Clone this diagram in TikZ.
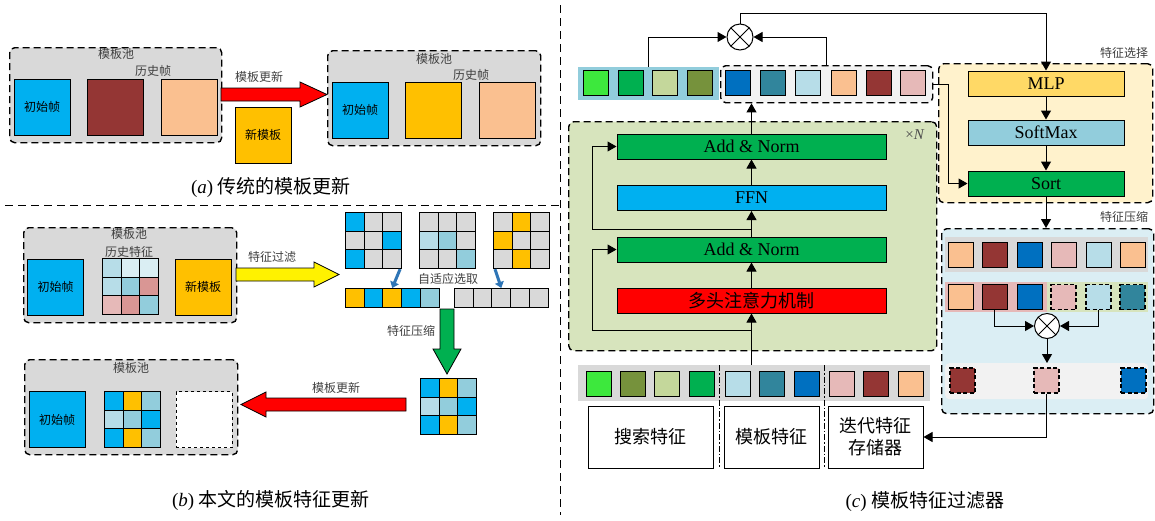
\documentclass[tikz,border=0pt]{standalone}
\usepackage{fontspec}
\setmainfont{Liberation Serif}
\newfontfamily\cjk{Noto Sans CJK SC}
\usetikzlibrary{arrows.meta,positioning,calc}

\definecolor{poolgray}{HTML}{D9D9D9}
\definecolor{stripgray}{HTML}{F2F2F2}
\definecolor{frameblue}{HTML}{00B0F0}
\definecolor{histbrown}{HTML}{943634}
\definecolor{histpeach}{HTML}{FAC090}
\definecolor{newyellow}{HTML}{FFC000}
\definecolor{lblue}{HTML}{B7DDE8}
\definecolor{mblue}{HTML}{92CDDC}
\definecolor{vlblue}{HTML}{DAEEF3}
\definecolor{lpink}{HTML}{E6B9B8}
\definecolor{dpink}{HTML}{D99694}
\definecolor{fgreen}{HTML}{3DE83D}
\definecolor{mgreen}{HTML}{00B050}
\definecolor{lolive}{HTML}{C4D79B}
\definecolor{olive}{HTML}{76923C}
\definecolor{dblue}{HTML}{0070C0}
\definecolor{tealblue}{HTML}{31859C}
\definecolor{encgreen}{HTML}{D7E4BD}
\definecolor{selyellow}{HTML}{FFF2CC}
\definecolor{mlpyellow}{HTML}{FFD966}
\definecolor{compblue}{HTML}{DBEEF4}
\definecolor{pickblue}{HTML}{2E75B6}

\tikzset{
  pool/.style={draw, line width=1.4pt, dash pattern=on 7pt off 4pt, rounded corners=5pt, fill=poolgray, inner sep=0pt, anchor=north west},
  area/.style={draw, line width=1.4pt, dash pattern=on 7pt off 4pt, rounded corners=5pt, inner sep=0pt, anchor=north west},
  plain/.style={inner sep=0pt, anchor=north west},
  big/.style={draw, line width=1pt, minimum size=56pt, inner sep=0pt, font=\cjk\fontsize{12}{12}\selectfont},
  cell/.style={draw, line width=1pt, minimum size=18.7pt, inner sep=0pt, anchor=north west},
  feat/.style={draw, line width=1pt, minimum size=25pt, inner sep=0pt},
  dashfeat/.style={feat, line width=1.3pt, dash pattern=on 4pt off 2.5pt},
  lbl/.style={font=\cjk\fontsize{12}{12}\selectfont, text=black!75, inner sep=1pt},
  subcap/.style={font=\fontsize{19}{19}\selectfont},
  layer/.style={draw, line width=1pt, minimum width=269pt, minimum height=25pt, inner sep=0pt, font=\fontsize{18}{18}\selectfont},
  fn/.style={draw, line width=1pt, minimum width=156pt, minimum height=25pt, inner sep=0pt, font=\fontsize{18}{18}\selectfont},
  src/.style={draw, line width=1pt, minimum height=62pt, inner sep=0pt, align=center, font=\cjk\fontsize{18}{22}\selectfont},
  conn/.style={-{Triangle[length=9pt,width=10pt]}, line width=1pt},
  pick/.style={draw=pickblue, line width=3pt, -{Triangle[length=6pt,width=9pt]}},
  block/.style={draw, line width=0.8pt},
  sep/.style={line width=1pt, dash pattern=on 6pt off 2pt on 1.5pt off 2pt},
  divider/.style={line width=1pt, dash pattern=on 8pt off 5pt},
  mul/.style={circle, draw, line width=1pt, fill=white, minimum size=26pt, inner sep=0pt,
    path picture={\draw[line width=1pt] (path picture bounding box.north west) -- (path picture bounding box.south east)
      (path picture bounding box.south west) -- (path picture bounding box.north east);}},
}

% 3x3 block of cells: name, left, top, colours
\newcommand\cellgrid[4]{%
  \foreach \c [count=\i from 0] in {#4}{%
    \pgfmathtruncatemacro\gc{mod(\i,3)}%
    \pgfmathtruncatemacro\gr{\i/3}%
    \node[cell, fill=\c] (#1-\i) at ({#2+\gc*18.7},{#3+\gr*18.7}) {};
  }}
% one row of cells
\newcommand\cellrow[4]{%
  \foreach \c [count=\i from 0] in {#4}{%
    \node[cell, fill=\c] (#1-\i) at ({#2+\i*18.7},#3) {};
  }}

\begin{document}
\begin{tikzpicture}[x=1pt,y=-1pt]
\useasboundingbox (0,0) rectangle (1155,520);

% (a)
\node[pool, minimum width=212pt, minimum height=95pt] (poolA) at (9,47) {};
\node[lbl] (poolAname) at (116,54) {模板池};
\node[lbl] (histAname) at (153,71) {历史帧};
\node[big, fill=frameblue] (initA) at (42,107) {初始帧};
\node[big, fill=histbrown] (histA1) at (115,107) {};
\node[big, fill=histpeach] (histA2) at (189,107) {};
\node[big, fill=newyellow] (newA) at (263,135) {新模板};
\node[pool, minimum width=213pt, minimum height=95pt] (poolB) at (327,50) {};
\node[lbl] (poolBname) at (434,59) {模板池};
\node[lbl] (histBname) at (471,75) {历史帧};
\node[big, fill=frameblue] (initB) at (360,110) {初始帧};
\node[big, fill=newyellow] (histB1) at (433.5,110) {};
\node[big, fill=histpeach] (histB2) at (507.5,110) {};
\filldraw[block, fill=red] (221,88) -- (300,88) -- (300,82) -- (327,94.5) -- (300,107) -- (300,101) -- (221,101) -- cycle;
\node[lbl] (updA) at (259,77) {模板更新};
\node[subcap] (capA) at (271,187) {(\textit{a}) {\cjk 传统的模板更新}};

% (b)
\node[pool, minimum width=213pt, minimum height=95pt] (poolC) at (23,227) {};
\node[lbl] (poolCname) at (129,234) {模板池};
\node[lbl] (histCname) at (129,252) {历史特征};
\node[big, fill=frameblue] (initC) at (55.5,287) {初始帧};
\cellgrid{histC}{102}{258}{lblue,vlblue,vlblue,lblue,mblue,dpink,lpink,dpink,mblue}
\node[big, fill=newyellow] (newC) at (203,287) {新模板};
\filldraw[block, fill=yellow] (236,268) -- (314,268) -- (314,262) -- (339,274.5) -- (314,287) -- (314,281) -- (236,281) -- cycle;
\node[lbl] (filtC) at (272,257) {特征过滤};
\cellgrid{selA}{345}{212}{frameblue,poolgray,poolgray,poolgray,poolgray,frameblue,frameblue,poolgray,poolgray}
\cellgrid{selB}{419}{212}{poolgray,poolgray,poolgray,lblue,mblue,poolgray,poolgray,poolgray,mblue}
\cellgrid{selC}{493}{212}{poolgray,newyellow,poolgray,newyellow,poolgray,poolgray,poolgray,newyellow,poolgray}
\cellrow{pickA}{345}{288}{newyellow,frameblue,newyellow,frameblue,mblue}
\cellrow{pickB}{454}{288}{poolgray,poolgray,poolgray,poolgray,poolgray}
\draw[pick] ([xshift=-2pt]selA-8.south east) -- (pickA-2.north);
\draw[pick] ([xshift=2pt]selC-6.south west) -- (pickB-2.north);
\node[lbl] (adapt) at (448,279) {自适应选取};
\filldraw[block, fill=mgreen] (440,309) -- (454,309) -- (454,349) -- (461,349) -- (447,374) -- (433,349) -- (440,349) -- cycle;
\node[lbl] (compC) at (411,331) {特征压缩};
\cellgrid{fused}{420}{378}{frameblue,newyellow,mblue,lblue,mblue,frameblue,frameblue,newyellow,mblue}
\filldraw[block, fill=red] (406,398) -- (266,398) -- (266,392) -- (241,404.5) -- (266,417) -- (266,411) -- (406,411) -- cycle;
\node[lbl] (updC) at (336,388) {模板更新};
\node[pool, minimum width=213pt, minimum height=95pt] (poolD) at (24,359) {};
\node[lbl] (poolDname) at (131,368) {模板池};
\node[big, fill=frameblue] (initD) at (57,419.5) {初始帧};
\cellgrid{histD}{104}{391}{frameblue,newyellow,mblue,lblue,mblue,frameblue,frameblue,newyellow,mblue}
\node[big, fill=white, dashed] (emptyD) at (204,419.5) {};
\node[subcap] (capB) at (271,500) {(\textit{b}) {\cjk 本文的模板特征更新}};

% (c) encoder
\node[plain, fill=mblue, minimum width=141pt, minimum height=33pt] (stripL) at (578,67) {};
\node[area, fill=stripgray, minimum width=212pt, minimum height=37pt] (stripR) at (720,65) {};
\foreach \x/\c [count=\i] in {596/fgreen,631/mgreen,665/lolive,700/olive,738/dblue,773/tealblue,808/lblue,844/histpeach,879/histbrown,913/lpink}
  \node[feat, fill=\c] (top\i) at (\x,83) {};
\node[mul] (mulA) at (740,37) {};
\coordinate (tapL) at ($(top2.north)!.5!(top3.north)$);
\coordinate (tapR) at ($(top7.north)!.5!(top8.north)$);
\draw[conn] (tapL |- stripL.north) |- (mulA.west);
\draw[conn] (tapR |- stripR.north) |- (mulA.east);

\node[area, fill=encgreen, minimum width=368pt, minimum height=229pt] (enc) at (568,121) {};
\node[font=\fontsize{15}{15}\selectfont, text=black!70] (times) at (915,135) {×\textit{N}};
\node[layer, fill=mgreen] (an1) at (751.5,146.5) {Add \& Norm};
\node[layer, fill=frameblue] (ffn) at (751.5,198) {FFN};
\node[layer, fill=mgreen] (an2) at (751.5,249.5) {Add \& Norm};
\node[layer, fill=red, font=\cjk\fontsize{18}{18}\selectfont] (mha) at (751.5,300.5) {多头注意力机制};
\draw[conn] (mha.north) -- (an2.south);
\draw[conn] (an2.north) -- (ffn.south);
\draw[conn] (ffn.north) -- (an1.south);
\draw[conn] (an1.north) -- (an1.north |- stripR.south);
\coordinate (res1) at (751.5,229);
\coordinate (res2) at (751.5,330);
\draw[conn] (res1) -| ([xshift=-24pt]an1.west) -- (an1.west);
\draw[conn] (res2) -| ([xshift=-24pt]an2.west) -- (an2.west);

\node[plain, fill=poolgray, minimum width=352pt, minimum height=36pt] (bstrip) at (578,365) {};
\draw[conn] (mha.south |- bstrip.north) -- (mha.south);
\foreach \x/\c [count=\i] in {598.5/fgreen,632.5/olive,666.5/lolive,701.5/mgreen,737.5/lblue,771.5/tealblue,806.5/dblue,841.5/lpink,875.5/histbrown,910.5/histpeach}
  \node[feat, fill=\c] (bot\i) at (\x,383.5) {};
\draw[sep] (719,365) -- (719,468);
\draw[sep] (824,365) -- (824,468);
\node[src, minimum width=125pt] (search) at (650.5,437) {搜索特征};
\node[src, minimum width=95pt] (tmplf) at (771.5,437) {模板特征};
\node[src, minimum width=95pt] (iter) at (875.5,437) {迭代特征\\存储器};

% (c) selection
\node[area, fill=selyellow, minimum width=214pt, minimum height=139pt] (selarea) at (938,63) {};
\node[lbl] (selname) at (1124,53) {特征选择};
\node[fn, fill=mlpyellow] (mlp) at (1046,83.5) {MLP};
\node[fn, fill=mblue] (smax) at (1046,132.5) {SoftMax};
\node[fn, fill=mgreen] (sort) at (1046,183.5) {Sort};
\draw[conn] (mlp) -- (smax);
\draw[conn] (smax) -- (sort);
\draw[conn] (stripR.east) -- ++(15,0) |- (sort.west);
\draw[conn] (mulA.north) -- ++(0,-10) -| (mlp.north);

% (c) compression
\node[area, fill=compblue, minimum width=212pt, minimum height=185pt] (comp) at (941,228) {};
\node[lbl] (compname) at (1124,217) {特征压缩};
\draw[conn] (sort.south) -- (sort.south |- comp.north);
\node[plain, fill=poolgray, minimum width=203pt, minimum height=35pt] (row1) at (945,237) {};
\foreach \x/\c [count=\i] in {960.5/histpeach,994.5/histbrown,1029.5/dblue,1063.5/lpink,1098.5/lblue,1132.5/histpeach}
  \node[feat, fill=\c] (up\i) at (\x,254.5) {};
\node[plain, fill=lpink, minimum width=102pt, minimum height=30pt] (row2a) at (945,282) {};
\node[plain, fill=encgreen, minimum width=101pt, minimum height=30pt] (row2b) at (1047,282) {};
\foreach \x/\c [count=\i] in {960.5/histpeach,994.5/histbrown,1029.5/dblue}
  \node[feat, fill=\c] (mid\i) at (\x,297) {};
\foreach \x/\c [count=\i from 4] in {1063.5/lpink,1098.5/lblue,1132.5/tealblue}
  \node[dashfeat, fill=\c] (mid\i) at (\x,297) {};
\node[mul, minimum size=25pt] (mulB) at (1047,326) {};
\draw[conn] (mid2.south) |- (mulB.west);
\draw[conn] (mid5.south) |- (mulB.east);
\node[plain, fill=stripgray, rounded corners=4pt, minimum width=203pt, minimum height=36pt] (row3) at (945,363) {};
\draw[conn] (mulB.south) -- (mulB.south |- row3.north);
\foreach \x/\c [count=\i] in {962.5/histbrown,1046.5/lpink,1133.5/dblue}
  \node[dashfeat, fill=\c] (low\i) at (\x,380.5) {};
\draw[conn] (low2.south) |- (iter.east);
\node[subcap] (capC) at (925,502) {(\textit{c}) {\cjk 模板特征过滤器}};

% dividers
\draw[divider] (560,5) -- (560,515);
\draw[divider] (5,205) -- (560,205);
\end{tikzpicture}
\end{document}
